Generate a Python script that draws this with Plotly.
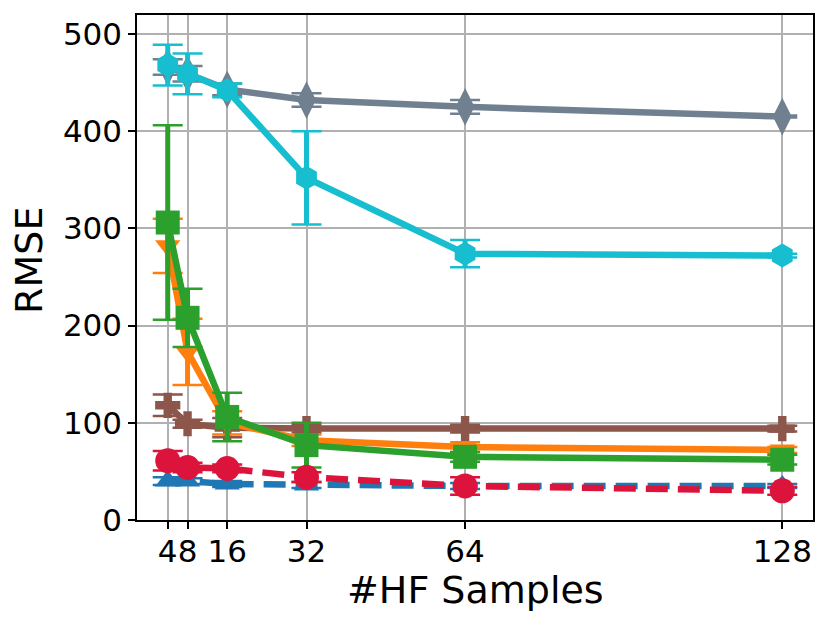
import plotly.graph_objects as go

x_vals = [4, 8, 16, 32, 64, 128]
tick_labels = ["4", "8", "16", "32", "64", "128"]

blue_y = [40, 40, 37, 36, 35, 35]
blue_err = [4, 3, 3, 3, 3, 2]
brown_y = [118, 99, 95, 94, 94, 94]
brown_err = [11, 4, 10, 4, 4, 3]
orange_y = [282, 173, 100, 82, 75, 72]
orange_err = [28, 34, 12, 6, 5, 3]
green_y = [306, 208, 106, 77, 65, 62]
green_err = [100, 30, 25, 23, 5, 5]
crimson_y = [61, 54, 53, 44, 35, 30]
crimson_err = [10, 5, 4, 5, 9, 4]
gray_y = [466, 459, 443, 432, 425, 415]
gray_err = [8, 8, 6, 7, 7, 1]
cyan_y = [468, 459, 442, 352, 274, 272]
cyan_err = [21, 21, 7, 48, 14, 2]

series = [
    ("blue", blue_y, blue_err, "#1f77b4", "triangle-up", 22, "22px,10px"),
    ("brown", brown_y, brown_err, "#8c564b", "cross", 21, "solid"),
    ("orange", orange_y, orange_err, "#ff7f0e", "triangle-down", 22, "solid"),
    ("green", green_y, green_err, "#2ca02c", "square", 24, "solid"),
    ("crimson", crimson_y, crimson_err, "#dc143c", "circle", 25, "22px,10px"),
    ("slategray", gray_y, gray_err, "#708090", "diamond-tall", 27, "solid"),
    ("cyan", cyan_y, cyan_err, "#17becf", "hexagon", 24, "solid"),
]

fig = go.Figure()
for name, ys, errs, color, sym, size, dash in series:
    # error bar stems
    fig.add_trace(go.Scatter(
        x=x_vals, y=ys, mode="markers",
        marker=dict(size=1, opacity=0),
        error_y=dict(type="data", array=errs, visible=True, color=color,
                     thickness=5, width=0),
        showlegend=False, hoverinfo="skip"))
    # error bar caps
    fig.add_trace(go.Scatter(
        x=x_vals, y=ys, mode="markers",
        marker=dict(size=1, opacity=0),
        error_y=dict(type="data", array=errs, visible=True, color=color,
                     thickness=2.5, width=15),
        showlegend=False, hoverinfo="skip"))
    fig.add_trace(go.Scatter(
        x=x_vals, y=ys, mode="lines+markers", name=name,
        line=dict(color=color, width=6.5, dash=dash),
        marker=dict(color=color, symbol=sym, size=size, line=dict(width=0)),
        showlegend=False))

fig.update_layout(
    width=830, height=626,
    margin=dict(l=129, r=25, t=7, b=114),
    paper_bgcolor="white", plot_bgcolor="white",
    font=dict(family="DejaVu Sans", color="black", size=31),
    annotations=[
        dict(text="#HF Samples", xref="paper", yref="paper", x=0.5, y=-0.1386,
             xanchor="center", yanchor="middle", showarrow=False,
             font=dict(size=38)),
        dict(text="RMSE", xref="paper", yref="paper", x=-0.1598, y=0.515,
             xanchor="center", yanchor="middle", showarrow=False,
             textangle=-90, font=dict(size=38)),
    ],
)
fig.update_xaxes(
    range=[-2.2, 134.2], tickvals=x_vals, ticktext=tick_labels,
    tickangle=0, automargin=False, ticklabelstandoff=-4,
    showgrid=True, gridcolor="#b0b0b0", gridwidth=1.5,
    showline=True, linecolor="black", linewidth=1.5, mirror=True,
    ticks="outside", ticklen=7, tickwidth=1.5, tickcolor="black",
    tickfont=dict(size=31), zeroline=False,
)
fig.update_yaxes(
    range=[0, 519.5], tickvals=[0, 100, 200, 300, 400, 500],
    automargin=False,
    showgrid=True, gridcolor="#b0b0b0", gridwidth=1.5,
    showline=True, linecolor="black", linewidth=1.5, mirror=True,
    ticks="outside", ticklen=7, tickwidth=1.5, tickcolor="black",
    tickfont=dict(size=31), zeroline=False,
)

fig.write_html("out.html")
